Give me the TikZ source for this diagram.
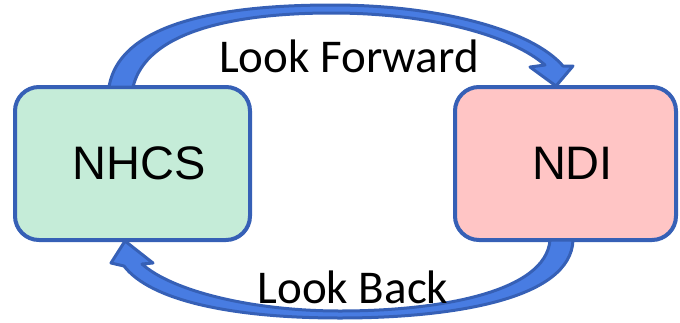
\documentclass[tikz,border=0pt]{standalone}
\usepackage{fontspec}
\setmainfont{Carlito}
\newfontfamily\boxfont{Liberation Sans}
\usetikzlibrary{calc}
\definecolor{edgeblue}{RGB}{54,96,182}
\definecolor{arrowblue}{RGB}{72,124,226}
\definecolor{mint}{RGB}{197,236,216}
\definecolor{blush}{RGB}{255,197,197}
\tikzset{
  box/.style={draw=edgeblue, line width=4pt, rounded corners=24pt,
    inner sep=0pt, outer sep=0pt},
  boxtext/.style={font=\boxfont\fontsize{47}{56}\selectfont, inner sep=0pt},
  looktext/.style={font=\fontsize{47}{56}\selectfont, inner sep=0pt, anchor=base},
  bentarrow/.style={draw=edgeblue, fill=arrowblue, line width=3pt, line join=round},
}
\begin{document}
\begin{tikzpicture}[x=1pt, y=-1pt]
\useasboundingbox (0,0) rectangle (680,322);

% the two states
\node[box, fill=mint, minimum width=235pt, minimum height=153pt] (nhcs) at (132.5,163.5) {};
\node[box, fill=blush, minimum width=221pt, minimum height=153pt] (ndi) at (565.5,163.5) {};
\node[boxtext] (nhcslabel) at ([xshift=7pt]nhcs.center) {NHCS};
\node[boxtext] (ndilabel) at ([xshift=7pt]ndi.center) {NDI};

% attachment points of the curved arrows
\coordinate (fwdOut) at ($(nhcs.north west)+(94,0)$);
\coordinate (fwdIn)  at ($(nhcs.north west)+(118,0)$);
\coordinate (fwdTip) at ($(ndi.north west)+(101,-1)$);
\coordinate (backOut) at ($(ndi.south west)+(118,0)$);
\coordinate (backIn)  at ($(ndi.south west)+(95,0)$);
\coordinate (backTip) at ($(nhcs.south west)+(110,1)$);

% upper arrow: NHCS -> NDI
\draw[bentarrow]
  (fwdOut) .. controls (120,20) and (230,5) .. (332,5)
  .. controls (440,5) and (532,30) .. (563,66)
  -- (573,66) -- (fwdTip) -- (530,67) -- (545,65)
  .. controls (512,36) and (432,13) .. (332,13)
  .. controls (232,13) and (146,32) .. (fwdIn) -- cycle;

% lower arrow: NDI -> NHCS
\draw[bentarrow]
  (backOut) .. controls (571,300) and (450,318) .. (340,318)
  .. controls (230,318) and (150,300) .. (124,266)
  -- (111,263) -- (backTip) -- (153,263) -- (142,264)
  .. controls (172,291) and (252,311) .. (340,311)
  .. controls (440,311) and (546,292) .. (backIn) -- cycle;

% arrow captions
\node[looktext] (fwdlabel) at (349,72) {Look Forward};
\node[looktext] (backlabel) at (353,303) {Look Back};
\end{tikzpicture}
\end{document}
